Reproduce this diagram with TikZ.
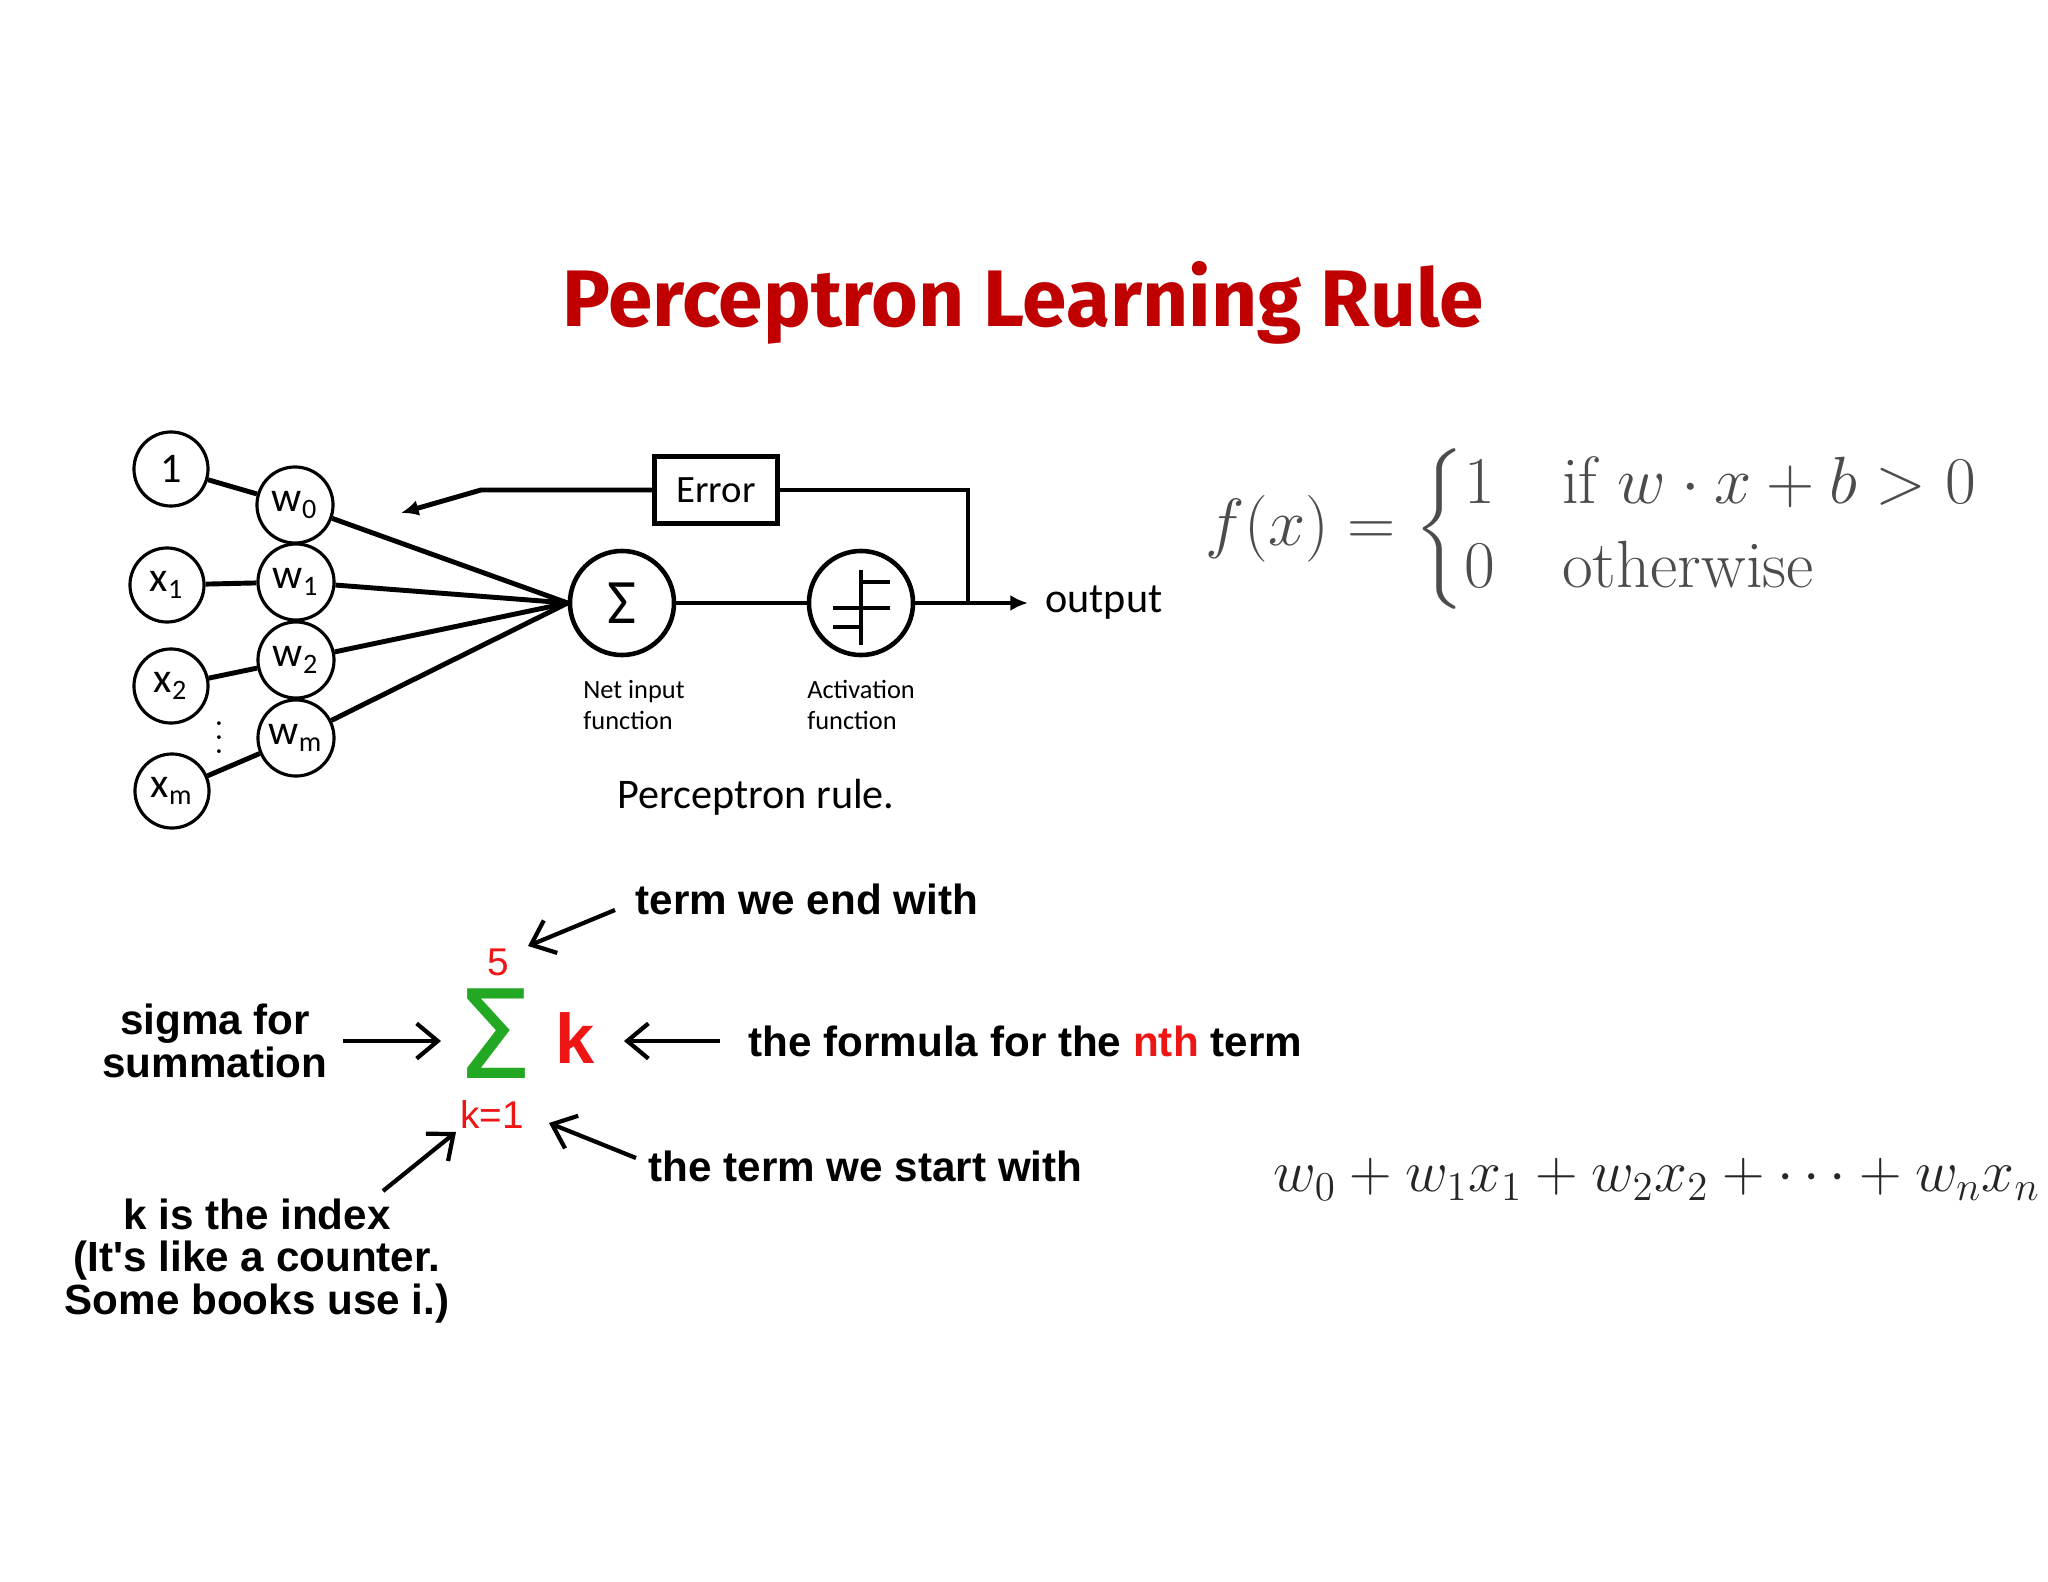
\documentclass[tikz,border=0pt]{standalone}
\usepackage{amsmath}
\usepackage{graphicx}
\usepackage[no-math]{fontspec}
\usepackage{tikz}
\usetikzlibrary{arrows.meta, positioning, shadows}
\newfontfamily\calfont{Carlito}
\newfontfamily\titlefont{Fira Sans}
\newfontfamily\annofont{Liberation Sans}
\newfontfamily\sigfont{DejaVu Sans}
\definecolor{titlered}{HTML}{C00000}
\definecolor{sumgreen}{HTML}{22A822}
\definecolor{markred}{HTML}{EE1515}
\tikzset{
	inp/.style={circle, draw, line width=0.9pt, minimum size=0.74cm, inner sep=0pt,
		font=\calfont\fontsize{12}{14}\selectfont},
	wgt/.style={inp, minimum size=0.76cm},
	fnode/.style={circle, draw, line width=1.3pt, minimum size=1.04cm, inner sep=0pt},
	errbox/.style={rectangle, draw, line width=1.3pt, minimum width=1.23cm, minimum height=0.67cm,
		fill=white, drop shadow={opacity=0.25, shadow xshift=0.8pt, shadow yshift=-0.8pt},
		font=\calfont\fontsize{11}{13}\selectfont},
	unitlbl/.style={font=\calfont\fontsize{7.5}{8.8}\selectfont, align=left, inner sep=0pt},
	wire/.style={line width=1.4pt},
	arr/.style={wire, -{Latex[length=5pt, width=4.5pt]}},
	anno/.style={font=\annofont\bfseries\fontsize{12}{12}\selectfont, align=center, inner sep=0pt},
	redlbl/.style={text=markred, font=\annofont\fontsize{11}{12}\selectfont, inner sep=0pt},
	barb/.style={line width=1.2pt, -{Straight Barb[length=6pt, width=10pt]}},
}

\begin{document}
\begin{tikzpicture}[x=0.01cm, y=-0.01cm, node distance=0.2cm]
	\fill[white] (0,0) rectangle (2048,1582);
	\useasboundingbox (0,0) rectangle (2048,1582);

	\node[text=titlered, font=\titlefont\bfseries\fontsize{22.8}{26}\selectfont] (title) at (1023,303) {Perceptron Learning Rule};

	\node[inp] (one) at (171,469) {1};
	\node[wgt] (w0) at (295,505) {w\textsubscript{0}};
	\node[inp] (x1) at (167,585) {x\textsubscript{1}};
	\node[wgt] (w1) at (296,582) {w\textsubscript{1}};
	\node[inp] (x2) at (171,686) {x\textsubscript{2}};
	\node[wgt] (w2) at (296,660) {w\textsubscript{2}};
	\node[font=\fontsize{10}{11}\selectfont, inner sep=0pt] (vdots) at (219,727) {$\vdots$};
	\node[wgt] (wm) at (296,738) {w\textsubscript{m}};
	\node[inp] (xm) at (172,791) {x\textsubscript{m}};
	\node[fnode, font=\calfont\fontsize{18}{20}\selectfont] (net) at (622,603) {Σ};
	\node[fnode] (act) at (861,603) {};
	\node[errbox] (err) at (716,490) {Error};
	\coordinate (split) at (968,603);
	\coordinate (outend) at (1028,603);
	\coordinate (bend) at (481,490);
	\coordinate (fbtip) at (401,513);
	\node[right=0.05cm of outend, font=\calfont\fontsize{12}{14}\selectfont] (out) {output};
	\node[unitlbl, below=0.22cm of net, xshift=0.12cm] (netlbl) {Net input\\function};
	\node[unitlbl, below=0.22cm of act] (actlbl) {Activation\\function};
	\node[font=\calfont\fontsize{12}{14}\selectfont] (rulelbl) at (756,797) {Perceptron rule.};

	\draw[wire] (one) -- (w0);
	\draw[wire] (x1) -- (w1);
	\draw[wire] (x2) -- (w2);
	\draw[wire] (xm) -- (wm);
	\foreach \w in {w0,w1,w2,wm}
		\draw[wire] (\w) -- (net.west);
	\draw[wire] (net) -- (act);
	\draw[arr] (act) -- (outend);
	\draw[wire] (split) |- (err.east);
	\draw[arr] (err.west) -- (bend) -- (fbtip);
	\begin{scope}[shift={(act)}, x=1cm, y=1cm, line width=1.1pt]
		\draw (0,0.33) -- (0,-0.42);
		\draw (0,0.21) -- (0.29,0.21);
		\draw (-0.28,-0.05) -- (0.29,-0.05);
		\draw (-0.28,-0.24) -- (0,-0.24);
	\end{scope}

	\node[font=\fontsize{17.28}{18}\selectfont, text=black!70] (step) at (1593,529)
		{\scalebox{1.1}{$f(x)=\begin{cases}1 & \text{if } w\cdot x+b>0\\ 0 & \text{otherwise}\end{cases}$}};
	\node[font=\fontsize{17.28}{18}\selectfont, text=black!85] (netsum) at (1657,1179)
		{\scalebox{0.97}{$w_0+w_1x_1+w_2x_2+\cdots+w_nx_n$}};

	\node[text=sumgreen, font=\sigfont\fontsize{35}{36}\selectfont, inner sep=0pt, text depth=0pt] (sig) at (494,1034) {Σ};
	\node[redlbl] (upper) at (498,962) {5};
	\node[redlbl] (lower) at (492,1114) {k=1};
	\node[text=markred, font=\annofont\bfseries\fontsize{20}{22}\selectfont, inner sep=0pt] (term) at (575,1038) {k};

	\node[anno, anchor=west] (endlbl) at (635,899) {term we end with};
	\node[anno, anchor=west] (nthlbl) at (748,1041) {the formula for the \textcolor{markred}{nth} term};
	\node[anno, anchor=west] (startlbl) at (648,1166) {the term we start with};
	\node[anno] (sigmalbl) at (215,1041) {sigma for\\summation};
	\node[anno] (idxlbl) at (257,1261) {k is the index\\(It's like a counter.\\Some books use i.)};

	\coordinate (s1) at (343,1041); \coordinate (t1) at (441,1041);
	\coordinate (s2) at (720,1041); \coordinate (t2) at (624,1041);
	\coordinate (s3) at (615,910);  \coordinate (t3) at (528,946);
	\coordinate (s4) at (636,1158); \coordinate (t4) at (549,1123);
	\coordinate (s5) at (383,1191); \coordinate (t5) at (456,1132);
	\foreach \i in {1,...,5}
		\draw[barb] (s\i) -- (t\i);
\end{tikzpicture}
\end{document}
